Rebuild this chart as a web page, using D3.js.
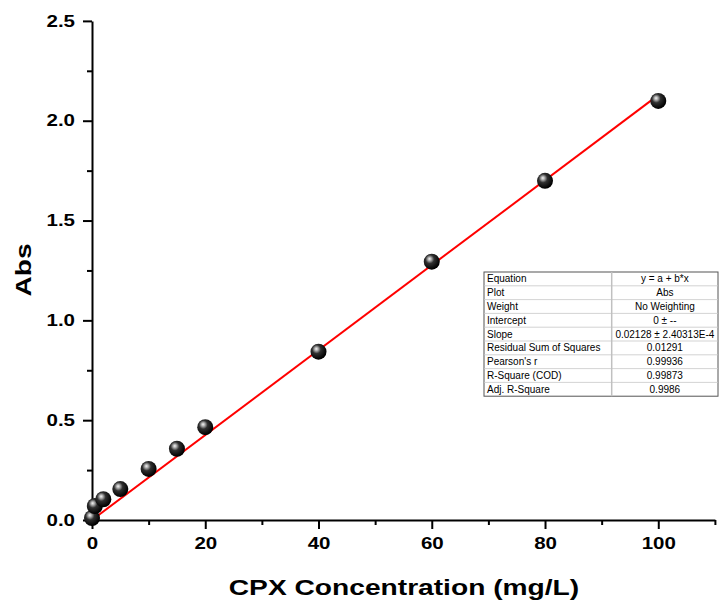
<!DOCTYPE html>
<html>
<head>
<meta charset="utf-8">
<script src="https://cdn.jsdelivr.net/npm/d3@7"></script>
<style>
    body { margin: 0; background: #fff; }
    svg { font-family: Arial, "Liberation Sans", sans-serif; }
    .tick text { font-weight: bold; font-size: 16px; }
</style>
</head>
<body>
<div id="chart"></div>
<script>
// measured points (concentration in mg/L, absorbance)
const concentrations = [0, 0.5, 2, 5, 10, 15, 20, 40, 60, 80, 100];
const absorbances = [0.01, 0.07, 0.104, 0.155, 0.256, 0.357, 0.465, 0.843, 1.294, 1.699, 2.099];

// linear fit through origin
const fitSlope = 0.02128;
const fitIntercept = 0;

const xTicks = [0, 20, 40, 60, 80, 100];
const yTicks = [0, 0.5, 1.0, 1.5, 2.0, 2.5];

// fit report table rows
const tableLabels = ['Equation', 'Plot', 'Weight', 'Intercept', 'Slope',
    'Residual Sum of Squares', "Pearson's r", 'R-Square (COD)', 'Adj. R-Square'];
const tableValues = ['y = a + b*x', 'Abs', 'No Weighting', '0 \u00b1 --', '0.02128 \u00b1 2.40313E-4',
    '0.01291', '0.99936', '0.99873', '0.9986'];

// the axis text of the original export is stretched sideways
const textStretch = 1.28;

let width = 719,
    height = 604;

let svg = d3.select('#chart')
    .append('svg')
    .attr('width', width)
    .attr('height', height);

let x = d3.scaleLinear().domain([0, 110]).range([92, 714.9]);
let y = d3.scaleLinear().domain([0, 2.5]).range([520, 20.9]);

// sphere-like marker gradient
let grad = svg.append('defs')
    .append('radialGradient')
    .attr('id', 'ball')
    .attr('cx', '40%').attr('cy', '38%').attr('r', '60%')
    .attr('fx', '36%').attr('fy', '32%');
grad.append('stop').attr('offset', '0%').attr('stop-color', '#f4f4f4');
grad.append('stop').attr('offset', '18%').attr('stop-color', '#b0b0b0');
grad.append('stop').attr('offset', '45%').attr('stop-color', '#303030');
grad.append('stop').attr('offset', '100%').attr('stop-color', '#000');

/* ------- axes ---------- */

function minorTicks(domain, step) {
    let out = [];
    for (let v = domain[0]; v <= domain[1] + 1e-9; v += step) out.push(+v.toFixed(4));
    return out;
}

let axes = svg.append('g').attr('class', 'axes');

let xAxis = axes.append('g')
    .attr('transform', 'translate(0,' + y(0) + ')');
// minor x ticks
xAxis.append('g')
    .call(d3.axisBottom(x).tickValues(minorTicks([10, 110], 20)).tickSize(5).tickFormat(''))
    .call(g => g.select('.domain').remove());
xAxis.append('g')
    .call(d3.axisBottom(x).tickValues(xTicks).tickSize(9).tickSizeOuter(0).tickPadding(9).tickFormat(d3.format('d')));

let yAxis = axes.append('g')
    .attr('transform', 'translate(' + x(0) + ',0)');
yAxis.append('g')
    .call(d3.axisLeft(y).tickValues(minorTicks([0.25, 2.25], 0.5)).tickSize(5).tickFormat(''))
    .call(g => g.select('.domain').remove());
yAxis.append('g')
    .call(d3.axisLeft(y).tickValues(yTicks).tickSize(9).tickSizeOuter(0).tickPadding(8).tickFormat(d3.format('.1f')));

axes.selectAll('.domain, .tick line')
    .attr('stroke', '#000')
    .attr('stroke-width', 2);
axes.selectAll('.tick text').attr('fill', '#000');

// axis titles
axes.append('text')
    .attr('x', 404)
    .attr('y', 595)
    .attr('text-anchor', 'middle')
    .style('font-size', '22px')
    .style('font-weight', 'bold')
    .text('CPX Concentration (mg/L)');

axes.append('text')
    .attr('transform', 'translate(31,270) rotate(-90)')
    .attr('text-anchor', 'middle')
    .style('font-size', '22px')
    .style('font-weight', 'bold')
    .text('Abs');

// widen axis text along its own reading direction
axes.selectAll('text').each(function() {
    let w = this.getComputedTextLength();
    if (w > 0)
        d3.select(this)
            .attr('textLength', w * textStretch)
            .attr('lengthAdjust', 'spacingAndGlyphs');
});

/* ------- fit line and points ---------- */

let fitLine = d3.line()
    .x(d => x(d))
    .y(d => y(fitIntercept + fitSlope * d));

svg.append('path')
    .datum([0, 100])
    .attr('d', fitLine)
    .attr('fill', 'none')
    .attr('stroke', '#ff0000')
    .attr('stroke-width', 2);

svg.append('g')
    .selectAll('circle')
    .data(concentrations.map((c, i) => [c, absorbances[i]]))
    .enter()
    .append('circle')
    .attr('cx', d => x(d[0]))
    .attr('cy', d => y(d[1]))
    .attr('r', 8)
    .attr('fill', 'url(#ball)');

/* ------- fit report table ---------- */

let tableLeft = 484,
    tableTop = 272,
    tableRight = 718,
    colSplit = 611.7,
    rowHeight = 13.8;

let table = svg.append('g').attr('class', 'fit-table');

table.append('rect')
    .attr('x', tableLeft)
    .attr('y', tableTop)
    .attr('width', tableRight - tableLeft)
    .attr('height', rowHeight * tableLabels.length)
    .attr('fill', '#fff')
    .attr('stroke', '#555')
    .attr('stroke-width', 1);

table.selectAll('line.row')
    .data(d3.range(1, tableLabels.length))
    .enter()
    .append('line')
    .attr('class', 'row')
    .attr('x1', tableLeft)
    .attr('x2', tableRight)
    .attr('y1', i => tableTop + i * rowHeight)
    .attr('y2', i => tableTop + i * rowHeight)
    .attr('stroke', '#c8c8c8')
    .attr('stroke-width', 0.8);

table.append('line')
    .attr('x1', colSplit).attr('x2', colSplit)
    .attr('y1', tableTop).attr('y2', tableTop + rowHeight * tableLabels.length)
    .attr('stroke', '#c0c0c0')
    .attr('stroke-width', 1.5);

table.selectAll('text.label')
    .data(tableLabels)
    .enter()
    .append('text')
    .attr('class', 'label')
    .attr('x', tableLeft + 3)
    .attr('y', (d, i) => tableTop + i * rowHeight + rowHeight / 2)
    .attr('dy', '.35em')
    .style('font-size', '10px')
    .text(d => d);

table.selectAll('text.value')
    .data(tableValues)
    .enter()
    .append('text')
    .attr('class', 'value')
    .attr('x', (colSplit + tableRight) / 2)
    .attr('y', (d, i) => tableTop + i * rowHeight + rowHeight / 2)
    .attr('dy', '.35em')
    .attr('text-anchor', 'middle')
    .style('font-size', '10px')
    .text(d => d);
</script>
</body>
</html>
